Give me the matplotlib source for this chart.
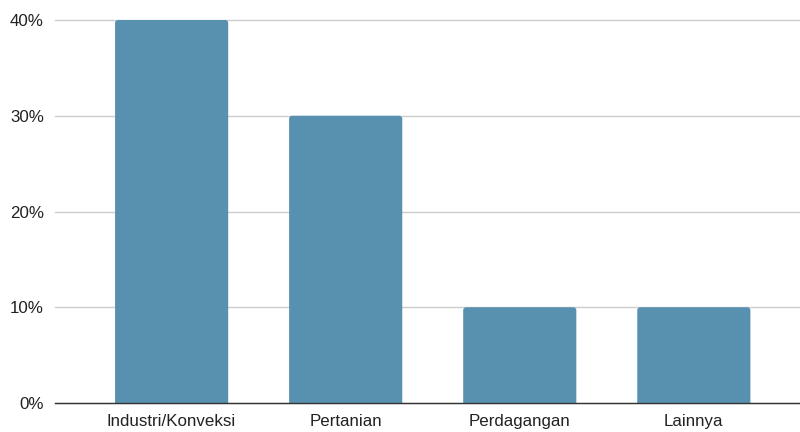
import matplotlib
matplotlib.use("Agg")
import matplotlib.pyplot as plt
from matplotlib.patches import FancyBboxPatch
from matplotlib.ticker import FuncFormatter

categories = ["Industri/Konveksi", "Pertanian", "Perdagangan", "Lainnya"]
values = [0.40, 0.30, 0.10, 0.10]
yticks = [0.0, 0.1, 0.2, 0.3, 0.4]

plt.rcParams['font.family'] = ['Liberation Sans', 'DejaVu Sans']

W, H = 800, 432
fig = plt.figure(figsize=(8, 4.32), dpi=100)
left, right, bottom, top = 55, 800, 403, 20
ax = fig.add_axes([left / W, 1 - bottom / H, (right - left) / W, (bottom - top) / H])

x = list(range(len(categories)))
bar_color = "#5891b0"
bars = ax.bar(x, values, width=0.65, color=bar_color, zorder=3)

xlim = (-0.67, 3.61)
ylim = (0, 0.4)
ax.set_xlim(*xlim)
ax.set_ylim(*ylim)

# rounded corners
px_w = (right - left) / (xlim[1] - xlim[0])
px_h = (bottom - top) / (ylim[1] - ylim[0])
aspect = px_w / px_h
for b in bars:
    bx, by = b.get_x(), b.get_y()
    bw, bh = b.get_width(), b.get_height()
    b.set_visible(False)
    ext = 0.01
    p = FancyBboxPatch((bx, by - ext), bw, bh + ext,
                       boxstyle="round,pad=0,rounding_size=0.017",
                       mutation_aspect=aspect,
                       facecolor=bar_color, edgecolor="none", zorder=3)
    ax.add_patch(p)

ax.set_yticks(yticks)
ax.yaxis.set_major_formatter(FuncFormatter(lambda v, _: f"{v*100:.0f}%"))
ax.set_xticks(x)
ax.set_xticklabels(categories)

ax.grid(axis='y', color="#cccccc", linewidth=1.0, zorder=0)
for gl in ax.get_ygridlines():
    gl.set_clip_on(False)
ax.set_axisbelow(True)

for s in ["top", "right", "left"]:
    ax.spines[s].set_visible(False)
ax.spines["bottom"].set_color("#333333")
ax.spines["bottom"].set_linewidth(1.0)
ax.spines["bottom"].set_zorder(4)

ax.tick_params(axis='both', length=0, labelsize=12.2, labelcolor="#222222")
ax.tick_params(axis='y', pad=8)
ax.tick_params(axis='x', pad=8)

fig.savefig("out.png", dpi=100)
